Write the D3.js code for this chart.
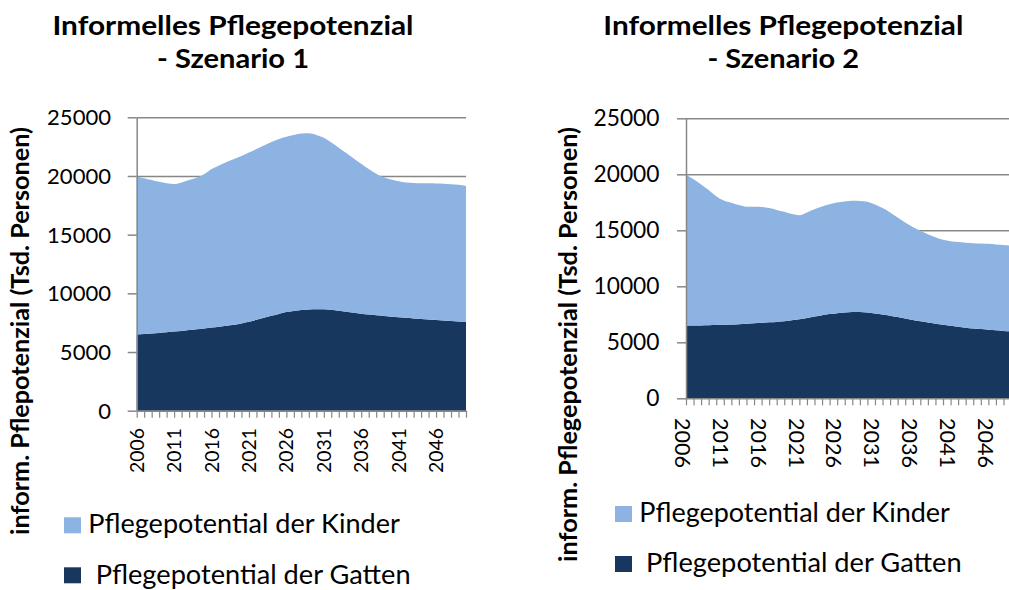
<!DOCTYPE html>
<html><head><meta charset="utf-8">
<script src="https://cdn.jsdelivr.net/npm/d3@7"></script>
<style>
body{margin:0;background:#fff}
svg{display:block}
text{font-family:Lato,"Open Sans",sans-serif;fill:#000}
</style>
</head><body>
<svg id="c" width="1009" height="590"></svg>
<script>
// ---------------- DATA ----------------
const years = [2006,2007,2008,2009,2010,2011,2012,2013,2014,2015,2016,2017,2018,2019,2020,
  2021,2022,2023,2024,2025,2026,2027,2028,2029,2030,2031,2032,2033,2034,2035,2036,2037,2038,
  2039,2040,2041,2042,2043,2044,2045,2046,2047,2048,2049,2050];
const xTickLabels = [2006,2011,2016,2021,2026,2031,2036,2041,2046];
const yTicks = [0,5000,10000,15000,20000,25000];
const seriesNames = ["Pflegepotential der Kinder","Pflegepotential der Gatten"];
const titles1 = ["Informelles Pflegepotenzial","- Szenario 1"];
const titles2 = ["Informelles Pflegepotenzial","- Szenario 2"];
const yTitle1 = "inform. Pflepotenzial (Tsd. Personen)";
const yTitle2 = "inform. Pflegepotenzial (Tsd. Personen)";

// Szenario 1
const gatten1 = [6500,6530,6570,6620,6680,6740,6800,6870,6940,7010,7080,7150,7230,7320,7440,
  7580,7740,7910,8080,8250,8400,8500,8580,8630,8650,8640,8600,8520,8430,8340,8260,8190,8130,
  8070,8010,7960,7910,7860,7810,7770,7730,7690,7650,7610,7570];
const kinder1 = [13450,13270,13080,12880,12700,12580,12650,12780,12910,13140,13520,13750,13970,14130,14260,
  14420,14560,14690,14820,14900,14950,15000,15040,15010,14850,14610,14250,13880,13520,13160,12790,12410,12070,
  11830,11690,11590,11540,11540,11570,11600,11630,11650,11650,11640,11580];
// Szenario 2
const gatten2 = [6480,6490,6500,6520,6540,6560,6590,6620,6660,6700,6740,6780,6820,6880,6960,
  7060,7180,7300,7420,7520,7600,7660,7700,7710,7670,7580,7480,7370,7250,7120,6990,6880,6770,
  6660,6560,6470,6390,6310,6240,6180,6120,6070,6020,5980,5940];
const kinder2 = [13470,13060,12600,12080,11510,11090,10860,10630,10440,10400,10340,10200,10000,9770,9490,
  9290,9420,9580,9700,9800,9880,9920,9930,9910,9870,9720,9500,9230,8900,8580,8310,8070,7880,
  7720,7590,7560,7560,7580,7610,7640,7670,7670,7660,7660,7650];

// ---------------- STYLE ----------------
const colKinder = "#8DB3E2";
const colGatten = "#17375E";
const gridCol = "#878787";

const svg = d3.select("#c");
svg.append("rect").attr("width",1009).attr("height",590).attr("fill","#fff");

function fit(t, w){
  const base = parseFloat(t.attr("font-size"));
  const m = t.node().getComputedTextLength();
  t.attr("font-size", base*w/m);
  return t;
}

function panel(cfg){
  const g = svg.append("g");
  const rows = years.map((yr,i)=>({year:yr, gatten:cfg.gatten[i], kinder:cfg.kinder[i]}));
  const x = d3.scalePoint().domain(years).range([cfg.left, cfg.right]).padding(0);
  const y = d3.scaleLinear().domain([0,25000]).range([cfg.bottom, cfg.top]);
  const stack = d3.stack().keys(["gatten","kinder"])(rows);

  // gridlines
  g.append("g").attr("transform",`translate(${cfg.left},0)`)
    .call(d3.axisLeft(y).tickValues(yTicks.filter(v=>v>0)).tickSize(-(cfg.right-cfg.left)).tickFormat(""))
    .call(s=>{s.select(".domain").remove(); s.selectAll("line").attr("stroke",gridCol).attr("stroke-width",1.5);});

  const area = d3.area().x(d=>x(d.data.year)).y0(d=>y(d[0])).y1(d=>y(d[1])).curve(d3.curveMonotoneX);
  g.selectAll("path.a").data(stack).join("path").attr("class","a")
    .attr("fill",(d,i)=>i===0?colGatten:colKinder).attr("d",area);

  // y axis
  const ya = g.append("g").attr("transform",`translate(${cfg.left},0)`)
    .call(d3.axisLeft(y).tickValues(yTicks).tickSize(9).tickSizeOuter(0).tickFormat(""));
  ya.select(".domain").attr("stroke",gridCol).attr("stroke-width",1.5);
  ya.selectAll("line").attr("stroke",gridCol).attr("stroke-width",1.5);
  // x axis
  const xa = g.append("g").attr("transform",`translate(0,${cfg.bottom})`)
    .call(d3.axisBottom(x).tickValues(years).tickSize(7).tickSizeOuter(0).tickFormat(""));
  xa.select(".domain").attr("stroke",gridCol).attr("stroke-width",1.5);
  xa.selectAll("line").attr("stroke",gridCol).attr("stroke-width",1.2);

  // y tick labels
  let ylabSize = null;
  yTicks.forEach(v=>{
    const t = g.append("text").attr("class","yl").attr("x",cfg.yLabRight).attr("y",y(v)).attr("dy","0.36em")
      .attr("text-anchor","end").attr("font-size",22).text(v);
    if(v===25000){ fit(t,cfg.yLabW); ylabSize=t.attr("font-size"); }
  });
  g.selectAll("text.yl").attr("font-size",ylabSize);

  // x tick labels
  let xs=null;
  xTickLabels.forEach((yr,i)=>{
    const t = g.append("text").attr("class","xl")
      .attr("transform",`translate(${x(yr)+cfg.xLabDx},${cfg.xLabY}) rotate(${cfg.rot})`)
      .attr("text-anchor",cfg.rot<0?"end":"start").attr("dy","0.36em")
      .attr("font-size",22).text(yr);
    if(i===0){ fit(t,cfg.xLabW); xs=t.attr("font-size"); }
  });
  g.selectAll("text.xl").attr("font-size",xs);

  // title: two lines, stretched to the reference width
  cfg.titles.forEach((s,i)=>{
    g.append("text").attr("x",cfg.titleX).attr("y",cfg.titleY[i]).attr("text-anchor","middle")
      .attr("font-weight","bold").attr("font-size",26.4)
      .attr("textLength",cfg.titleW[i]).attr("lengthAdjust","spacingAndGlyphs").text(s);
  });

  // y title
  const yt = g.append("text").attr("transform",`translate(${cfg.ytX},${cfg.ytY}) rotate(-90)`)
    .attr("text-anchor","middle").attr("font-weight","bold").attr("font-size",22).text(cfg.yTitle);
  fit(yt,cfg.ytW);

  // legend
  const legCols=[colKinder,colGatten];
  seriesNames.forEach((s,i)=>{
    g.append("rect").attr("x",cfg.legSqX).attr("y",cfg.legSqY[i]).attr("width",17).attr("height",16).attr("fill",legCols[i]);
    const t = g.append("text").attr("x",cfg.legTx[i]).attr("y",cfg.legTy[i]).attr("font-size",24).text(s);
    fit(t,cfg.legTw[i]);
  });
}

panel({gatten:gatten1,kinder:kinder1,left:136.7,right:466,top:117.3,bottom:410.7,
  yLabRight:111,yLabW:64,xLabY:428,xLabDx:0,xLabW:45,rot:-90,
  titles:titles1,titleX:233,titleY:[35.3,67.5],titleW:[361,152],
  yTitle:yTitle1,ytX:29,ytY:331,ytW:408,
  legSqX:64,legSqY:[517.3,567.3],legTx:[88.3,95.7],legTy:[533.3,584.3],legTw:[311.7,315]});

panel({gatten:gatten2,kinder:kinder2,left:686,right:1018.6,top:118.3,bottom:398.3,
  yLabRight:659.5,yLabW:66,xLabY:418,xLabDx:-3,xLabW:50,rot:90,
  titles:titles2,titleX:783.3,titleY:[35.3,67.5],titleW:[360,151.6],
  yTitle:yTitle2,ytX:577,ytY:344.5,ytW:435,
  legSqX:615,legSqY:[506,556],legTx:[639.3,646],legTy:[521.7,571.7],legTw:[310.7,315.7]});
</script>
</body></html>
